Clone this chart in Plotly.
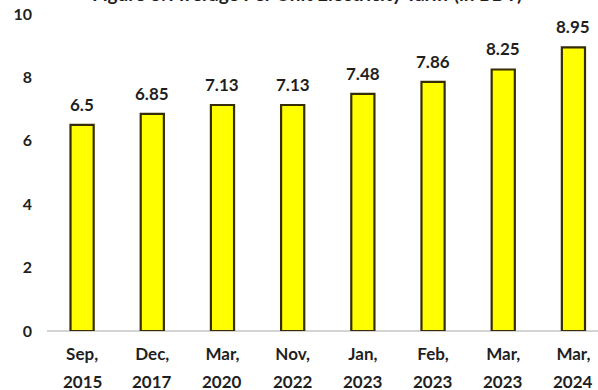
import plotly.graph_objects as go

# Average per-unit electricity tariff (BDT) at each revision date
months = ["Sep,", "Dec,", "Mar,", "Nov,", "Jan,", "Feb,", "Mar,", "Mar,"]
years = ["2015", "2017", "2020", "2022", "2023", "2023", "2023", "2024"]
tariff = [6.5, 6.85, 7.13, 7.13, 7.48, 7.86, 8.25, 8.95]
value_labels = ["6.5", "6.85", "7.13", "7.13", "7.48", "7.86", "8.25", "8.95"]
y_ticks = [0, 2, 4, 6, 8, 10]

title_text = "Figure 3: Average Per Unit Electricity Tariff (in BDT)"

positions = list(range(len(tariff)))

FONT = "Lato, 'Open Sans', sans-serif"
INK = "#1f1f1f"

fig = go.Figure(
    go.Bar(
        x=positions,
        y=tariff,
        width=0.33,
        marker=dict(color="#FFFF00", line=dict(color="#352d05", width=2.2)),
        hoverinfo="skip",
    )
)

# value labels above each bar
for pos, val, lab in zip(positions, tariff, value_labels):
    fig.add_annotation(
        x=pos, y=val, text=f"<b>{lab}</b>",
        xanchor="center", yanchor="bottom", yshift=8,
        showarrow=False,
        font=dict(family=FONT, size=17, color=INK),
    )

# second line of each category label (year)
for pos, yr in zip(positions, years):
    fig.add_annotation(
        x=pos, xref="x", y=0, yref="paper", text=f"<b>{yr}</b>",
        xanchor="center", yanchor="middle", yshift=-50,
        showarrow=False,
        font=dict(family=FONT, size=17, color=INK),
    )

fig.add_annotation(
    text=f"<b>{title_text}</b>",
    xref="paper", yref="paper",
    x=0.472, y=1.003,
    xanchor="center", yanchor="bottom",
    showarrow=False,
    font=dict(family=FONT, size=19, color=INK),
)

fig.update_layout(
    width=598,
    height=390,
    margin=dict(l=47, r=0, t=8, b=59),
    paper_bgcolor="white",
    plot_bgcolor="white",
    showlegend=False,
    xaxis=dict(
        range=[-0.5, 7.35],
        tickmode="array",
        tickvals=positions,
        ticktext=months,
        tickfont=dict(family=FONT, size=17, color=INK, weight="bold"),
        showgrid=False,
        zeroline=False,
        showline=False,
        ticks="",
        ticklabelstandoff=11,
    ),
    yaxis=dict(
        range=[0, 10.19],
        tickmode="array",
        tickvals=y_ticks,
        ticktext=[str(v) for v in y_ticks],
        tickfont=dict(family=FONT, size=16, color=INK, weight="bold"),
        showgrid=False,
        zeroline=True,
        zerolinecolor="#d4d4d4",
        zerolinewidth=1.5,
        showline=False,
        ticks="",
        ticklabelstandoff=14,
    ),
)

fig.write_html("out.html")
